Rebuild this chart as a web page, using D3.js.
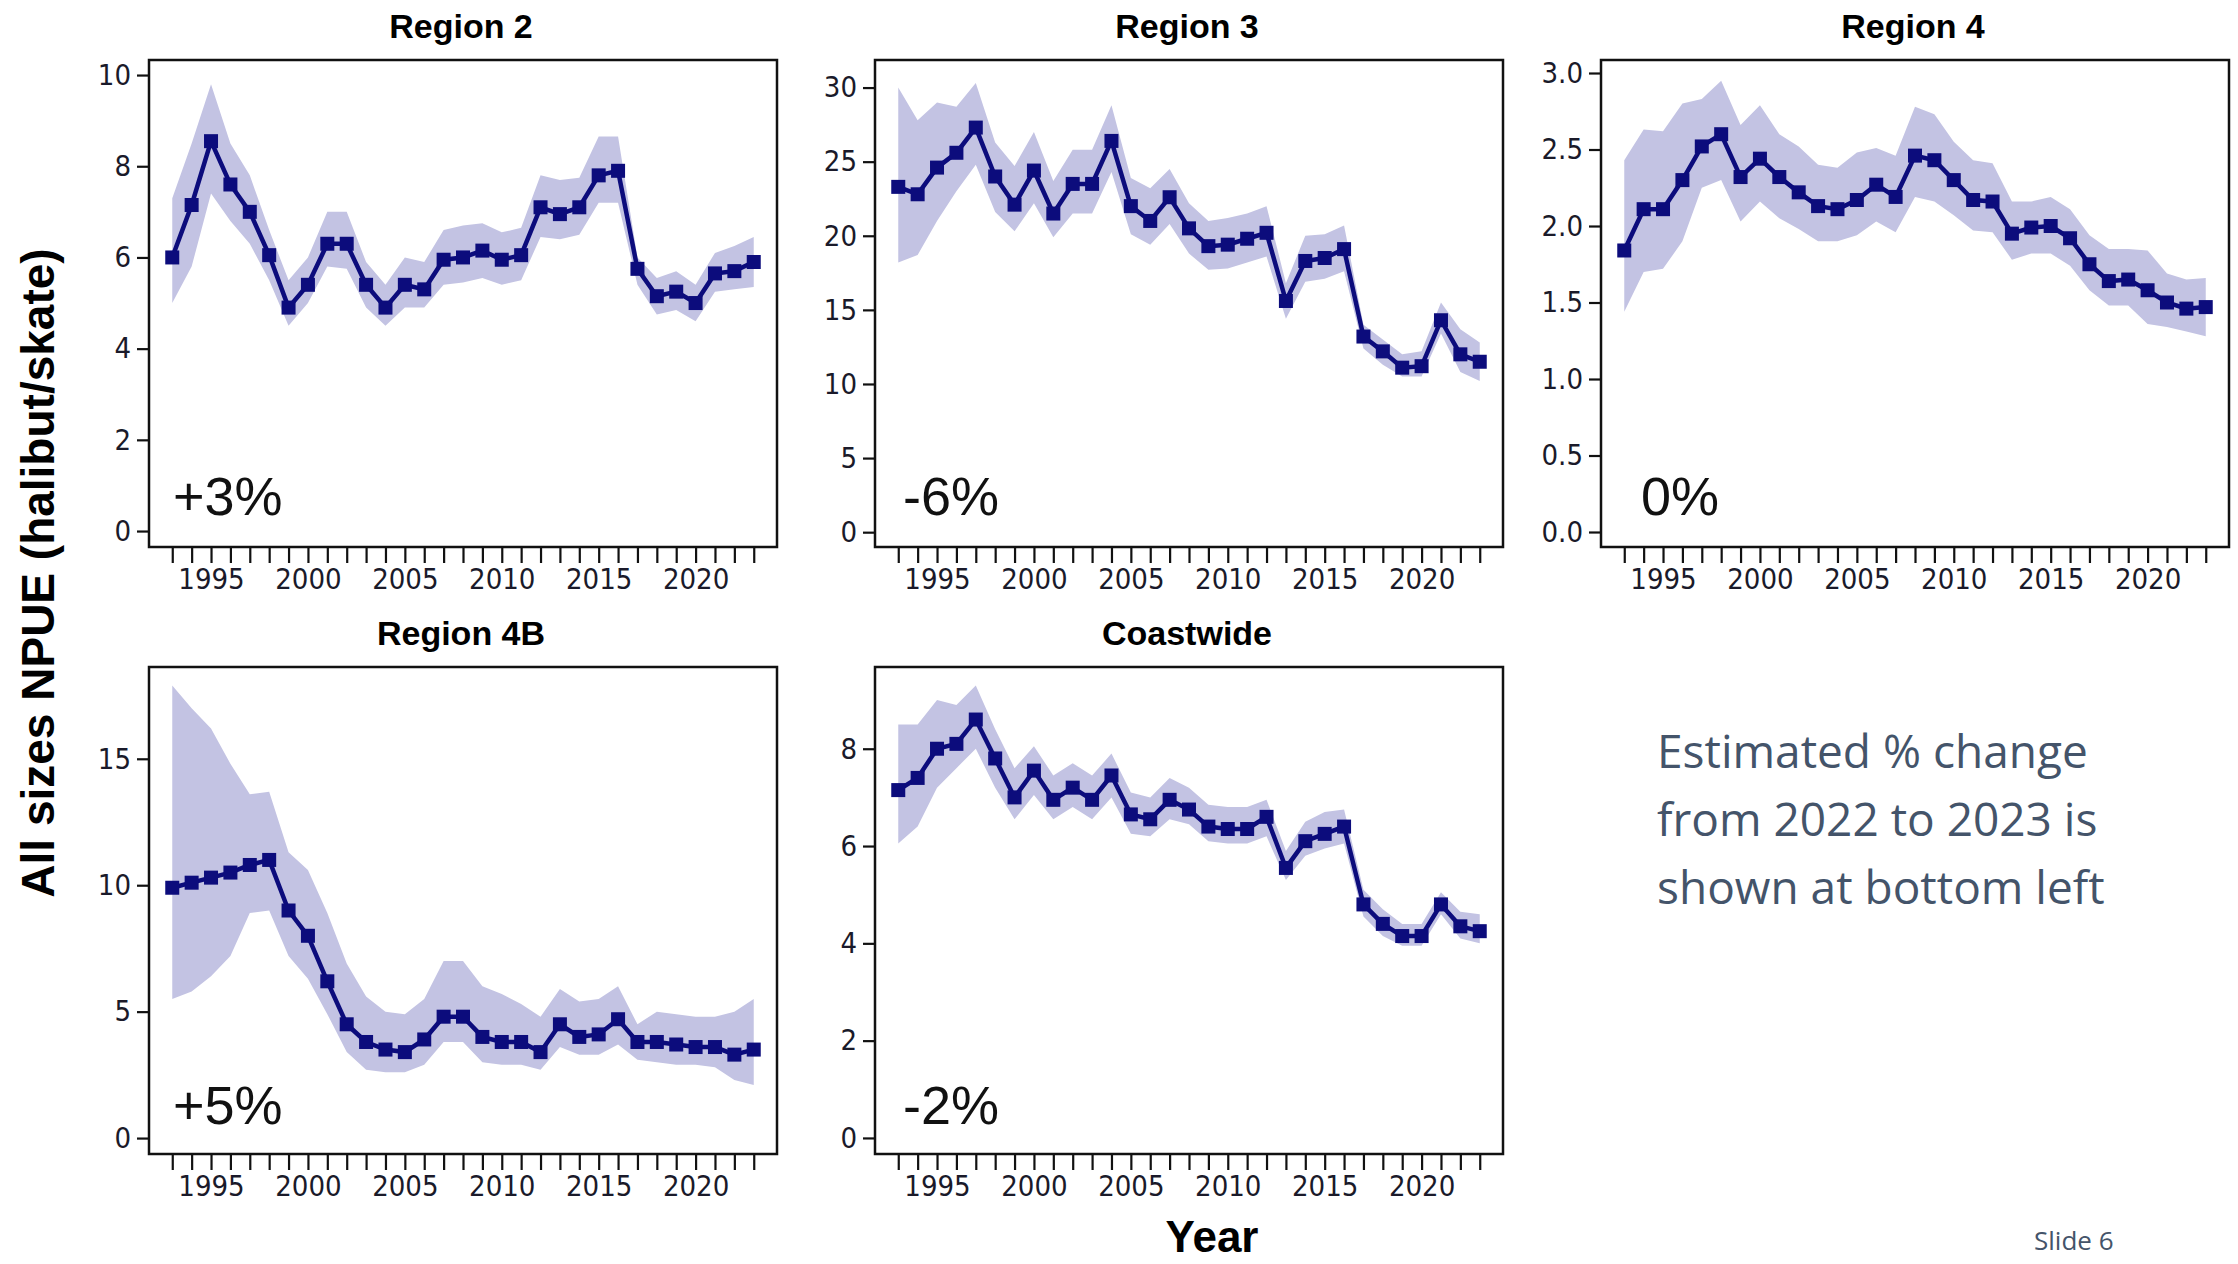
<!DOCTYPE html>
<html><head><meta charset="utf-8">
<script src="https://cdn.jsdelivr.net/npm/d3@7"></script>
<style>body{margin:0;background:#fff}</style></head>
<body><svg id="c" width="2238" height="1264"></svg>
<script>
const years = d3.range(1993, 2024);
const titles = ["Region 2","Region 3","Region 4","Region 4B","Coastwide"];
const pctLabels = ["+3%","-6%","0%","+5%","-2%"];
const yTicks = [[0,2,4,6,8,10],[0,5,10,15,20,25,30],[0,0.5,1,1.5,2,2.5,3],[0,5,10,15],[0,2,4,6,8]];
const yLims = [[-0.35,10.33],[-1.0,31.86],[-0.098,3.085],[-0.63,18.63],[-0.33,9.68]];
const r2 = [6.0,7.15,8.55,7.6,7.0,6.05,4.9,5.4,6.3,6.3,5.4,4.9,5.4,5.3,5.95,6.0,6.15,5.95,6.05,7.1,6.95,7.1,7.8,7.9,5.75,5.15,5.25,5.0,5.65,5.7,5.9];
const r2u = [7.3,8.5,9.8,8.5,7.8,6.6,5.5,6.0,7.0,7.0,5.9,5.4,6.0,5.9,6.6,6.7,6.75,6.55,6.65,7.8,7.7,7.75,8.65,8.65,6.0,5.55,5.7,5.4,6.1,6.25,6.45];
const r2l = [5.0,5.8,7.4,6.8,6.3,5.5,4.5,5.0,5.8,5.75,4.9,4.5,4.9,4.9,5.4,5.45,5.55,5.4,5.5,6.45,6.4,6.5,7.2,7.2,5.4,4.75,4.85,4.6,5.25,5.3,5.35];
const r3 = [23.3,22.8,24.6,25.6,27.3,24.0,22.1,24.4,21.5,23.5,23.5,26.4,22.0,21.0,22.6,20.5,19.3,19.4,19.8,20.2,15.6,18.3,18.5,19.1,13.2,12.2,11.1,11.2,14.3,12.0,11.5];
const r3u = [30.0,27.8,29.0,28.7,30.3,26.3,24.7,27.0,23.7,25.8,25.8,28.8,23.9,23.2,24.5,22.2,21.0,21.2,21.5,22.0,16.8,20.0,20.1,20.7,14.0,13.0,12.0,12.2,15.5,13.7,12.8];
const r3l = [18.2,18.7,21.0,23.0,24.8,21.6,20.3,22.2,19.9,21.5,21.5,24.3,20.1,19.4,20.8,18.8,17.7,17.8,18.2,18.6,14.4,16.9,17.1,17.6,12.4,11.3,10.5,10.5,13.4,10.8,10.2];
const r4 = [1.84,2.11,2.11,2.30,2.52,2.60,2.32,2.44,2.32,2.22,2.13,2.11,2.17,2.27,2.19,2.46,2.43,2.30,2.17,2.16,1.95,1.99,2.00,1.92,1.75,1.64,1.65,1.58,1.50,1.46,1.47];
const r4u = [2.43,2.63,2.62,2.80,2.83,2.95,2.66,2.79,2.60,2.52,2.40,2.38,2.48,2.51,2.46,2.78,2.73,2.55,2.43,2.41,2.16,2.16,2.19,2.11,1.94,1.85,1.85,1.84,1.69,1.65,1.66];
const r4l = [1.44,1.70,1.72,1.90,2.25,2.30,2.03,2.16,2.05,1.98,1.90,1.90,1.94,2.03,1.96,2.19,2.16,2.07,1.97,1.96,1.78,1.82,1.82,1.74,1.58,1.48,1.48,1.36,1.34,1.31,1.28];
const r4b = [9.9,10.1,10.3,10.5,10.8,11.0,9.0,8.0,6.2,4.5,3.8,3.5,3.4,3.9,4.8,4.8,4.0,3.8,3.8,3.4,4.5,4.0,4.1,4.7,3.8,3.8,3.7,3.6,3.6,3.3,3.5];
const r4bu = [17.9,17.0,16.2,14.8,13.6,13.7,11.3,10.6,8.9,6.9,5.6,5.0,4.9,5.5,7.0,7.0,6.0,5.7,5.3,4.8,5.9,5.4,5.5,6.0,4.5,5.0,4.9,4.8,4.8,5.0,5.5];
const r4bl = [5.5,5.8,6.4,7.2,8.9,9.0,7.2,6.3,4.9,3.4,2.7,2.6,2.6,2.9,3.8,3.8,3.0,2.9,2.9,2.7,3.6,3.3,3.3,3.7,3.1,3.0,2.9,2.9,2.8,2.3,2.1];
const cw = [7.15,7.4,8.0,8.1,8.6,7.8,7.0,7.55,6.95,7.2,6.95,7.45,6.65,6.55,6.95,6.75,6.4,6.35,6.35,6.6,5.55,6.1,6.25,6.4,4.8,4.4,4.15,4.15,4.8,4.35,4.25];
const cwu = [8.5,8.5,9.0,8.9,9.3,8.4,7.6,8.05,7.45,7.7,7.45,7.9,7.1,7.0,7.4,7.2,6.85,6.8,6.8,6.95,5.9,6.5,6.7,6.75,5.1,4.7,4.4,4.4,5.05,4.65,4.6];
const cwl = [6.05,6.4,7.2,7.6,8.0,7.2,6.55,7.05,6.55,6.8,6.55,7.0,6.25,6.2,6.55,6.45,6.1,6.05,6.05,6.2,5.3,5.8,5.95,6.05,4.55,4.15,3.95,3.95,4.6,4.1,4.0];
const series = [[r2,r2u,r2l],[r3,r3u,r3l],[r4,r4u,r4l],[r4b,r4bu,r4bl],[cw,cwu,cwl]];

const svg = d3.select("#c");
const boxes = [[149,60],[875,60],[1601,60],[149,667],[875,667]];
const W = 628, H = 487;
const tickFont = "'DejaVu Sans Condensed','Liberation Sans Narrow',sans-serif";
const F = "Liberation Sans, Arial, sans-serif";

series.forEach((s, i) => {
  const [bx, by] = boxes[i];
  const g = svg.append("g").attr("transform", `translate(${bx},${by})`);
  const x = d3.scaleLinear().domain([1993 - 1.2, 2023 + 1.2]).range([0, W]);
  const y = d3.scaleLinear().domain(yLims[i]).range([H, 0]);
  const pts = years.map((yr, k) => ({yr, v: s[0][k], u: s[1][k], l: s[2][k]}));
  g.append("path").datum(pts).attr("fill", "#c3c3e3")
    .attr("d", d3.area().x(d => x(d.yr)).y0(d => y(d.l)).y1(d => y(d.u)));
  g.append("path").datum(pts).attr("fill", "none").attr("stroke", "#0c0c7c").attr("stroke-width", 4.5)
    .attr("d", d3.line().x(d => x(d.yr)).y(d => y(d.v)));
  g.selectAll("rect.m").data(pts).enter().append("rect")
    .attr("x", d => x(d.yr) - 7).attr("y", d => y(d.v) - 7).attr("width", 14).attr("height", 14)
    .attr("fill", "#0c0c7c");
  g.append("rect").attr("width", W).attr("height", H).attr("fill", "none").attr("stroke", "#111").attr("stroke-width", 2.5);
  const xa = g.append("g").attr("transform", `translate(0,${H})`)
    .call(d3.axisBottom(x).tickValues(years).tickSize(16).tickPadding(5)
      .tickFormat(d => d % 5 === 0 ? d : ""));
  xa.select(".domain").remove();
  xa.selectAll("line").attr("stroke", "#111").attr("stroke-width", 2.2);
  xa.selectAll("text").attr("font-family", tickFont).attr("font-size", 29).attr("fill", "#1a1a2a");
  const ya = g.append("g").call(d3.axisLeft(y).tickValues(yTicks[i]).tickSize(12).tickPadding(6)
      .tickFormat(i === 2 ? d3.format(".1f") : d3.format("d")));
  ya.select(".domain").remove();
  ya.selectAll("line").attr("stroke", "#111").attr("stroke-width", 2.2);
  ya.selectAll("text").attr("font-family", tickFont).attr("font-size", 29).attr("fill", "#1a1a2a");
  svg.append("text").attr("x", bx + W / 2 - 2).attr("y", by - 22).attr("text-anchor", "middle")
    .attr("font-family", F).attr("font-weight", "bold").attr("font-size", 34).text(titles[i]);
  const px = [24, 28, 40, 24, 28][i];
  g.append("text").attr("x", px).attr("y", i < 3 ? H - 32 : H - 30).attr("font-family", F)
    .attr("font-size", 54).attr("fill", "#111").text(pctLabels[i]);
});

svg.append("text").attr("transform", "translate(54,573) rotate(-90)").attr("text-anchor", "middle")
  .attr("font-family", F).attr("font-weight", "bold").attr("font-size", 46).text("All sizes NPUE (halibut/skate)");
svg.append("text").attr("x", 1212).attr("y", 1252).attr("text-anchor", "middle")
  .attr("font-family", F).attr("font-weight", "bold").attr("font-size", 44).text("Year");
const note = ["Estimated % change", "from 2022 to 2023 is", "shown at bottom left"];
note.forEach((t, k) => svg.append("text").attr("x", 1657).attr("y", 768 + k * 68)
  .attr("font-family", "'Open Sans', sans-serif").attr("font-size", 46).attr("fill", "#44546a").text(t));
svg.append("text").attr("x", 2034).attr("y", 1250).attr("font-family", "'Open Sans', sans-serif")
  .attr("font-size", 26).attr("fill", "#44546a").text("Slide 6");
</script></body></html>
